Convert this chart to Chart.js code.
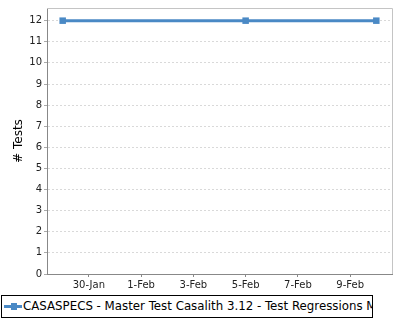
<!DOCTYPE html>
<html>
<head>
<meta charset="utf-8">
<script src="https://cdn.jsdelivr.net/npm/chart.js@4.4.1/dist/chart.umd.min.js"></script>
<style>
  html, body { margin: 0; padding: 0; background: #fff; overflow: hidden; }
  #wrap { position: relative; width: 400px; height: 320px; }
  #grafico { position: absolute; left: 0; top: 0; }
  #legenda {
    position: absolute; left: 1px; top: 295px; width: 372px; height: 23px;
    box-sizing: border-box; border: 1px solid #000; overflow: hidden;
    white-space: nowrap; font: 11.8px "DejaVu Sans", sans-serif; color: #000;
    line-height: 21px; padding-left: 21px; background: #fff;
  }
  #legenda .linha { position: absolute; left: 2px; top: 9px; width: 18px; height: 3px; background: #4a89c5; }
  #legenda .ponto { position: absolute; left: 9px; top: 7px; width: 6px; height: 7px; background: #4a89c5; }
</style>
</head>
<body>
<div id="wrap">
  <canvas id="grafico" width="400" height="320"></canvas>
  <div id="legenda"><span class="linha"></span><span class="ponto"></span><span id="legendaTexto"></span></div>
</div>
<script>
// dados
const serieNome = "CASASPECS - Master Test Casalith 3.12 - Test Regressions M";
const datasExecucao = ["29-Jan", "5-Feb", "10-Feb"];
const totalTestes = [12, 12, 12];
const rotulosX = ["30-Jan", "1-Feb", "3-Feb", "5-Feb", "7-Feb", "9-Feb"];
const rotulosY = [0, 1, 2, 3, 4, 5, 6, 7, 8, 9, 10, 11, 12];

const COR = "#4a89c5";
const OFFSET_MES = { Jan: 0, Feb: 31 };

// "29-Jan" -> dia do ano
function diaDoAno(txt) {
  const [d, m] = txt.split("-");
  return parseInt(d, 10) + OFFSET_MES[m];
}

const pontos = datasExecucao.map((d, i) => ({ x: diaDoAno(d), y: totalTestes[i] }));
const ticksX = rotulosX.map(diaDoAno);
const primeiro = pontos[0].x, ultimo = pontos[pontos.length - 1].x;
const margemX = (ultimo - primeiro) * 0.05;
const maxY = Math.max(...totalTestes);

document.getElementById("legendaTexto").textContent = serieNome;

// borda superior/direita clara da área do gráfico
const bordaArea = {
  id: "bordaArea",
  beforeDatasetsDraw(chart) {
    const { ctx, chartArea: a } = chart;
    ctx.save();
    ctx.strokeStyle = "#c4c4c4";
    ctx.lineWidth = 1;
    ctx.beginPath();
    ctx.moveTo(a.left, a.top + 0.5);
    ctx.lineTo(a.right + 0.5, a.top + 0.5);
    ctx.lineTo(a.right + 0.5, a.bottom);
    ctx.stroke();
    ctx.restore();
  },
};

Chart.defaults.font.family = "'DejaVu Sans', sans-serif";
Chart.defaults.color = "#222";

new Chart(document.getElementById("grafico").getContext("2d"), {
  type: "line",
  data: {
    datasets: [
      {
        label: serieNome,
        data: pontos,
        borderColor: COR,
        backgroundColor: COR,
        borderWidth: 3,
        pointStyle: "rect",
        pointRadius: 4.6,
        pointBorderWidth: 0,
        tension: 0,
        fill: false,
      },
    ],
  },
  options: {
    responsive: false,
    animation: false,
    events: [],
    layout: { padding: { top: 6, right: 8, bottom: 25, left: 0 } },
    plugins: { legend: { display: false }, tooltip: { enabled: false } },
    scales: {
      x: {
        type: "linear",
        min: primeiro - margemX,
        max: ultimo + margemX,
        afterBuildTicks: (s) => { s.ticks = ticksX.map((v) => ({ value: v })); },
        afterFit: (s) => { s.height = 21; },
        ticks: {
          font: { size: 10 },
          padding: 2,
          autoSkip: false,
          maxRotation: 0,
          callback: (v) => rotulosX[ticksX.indexOf(v)],
        },
        grid: { drawOnChartArea: false, tickLength: 3, color: "#888" },
        border: { color: "#888" },
      },
      y: {
        min: 0,
        max: maxY * 1.05,
        afterBuildTicks: (s) => { s.ticks = rotulosY.map((v) => ({ value: v })); },
        afterFit: (s) => { s.width = 47; },
        ticks: { font: { size: 10 }, padding: 2 },
        grid: { color: "#d9d9d9", tickColor: "#aaa", tickLength: 3 },
        border: { color: "#888", dash: [2, 2] },
        title: { display: true, text: "# Tests", font: { size: 12 }, color: "#000", padding: { top: 12 } },
      },
    },
  },
  plugins: [bordaArea],
});
</script>
</body>
</html>
